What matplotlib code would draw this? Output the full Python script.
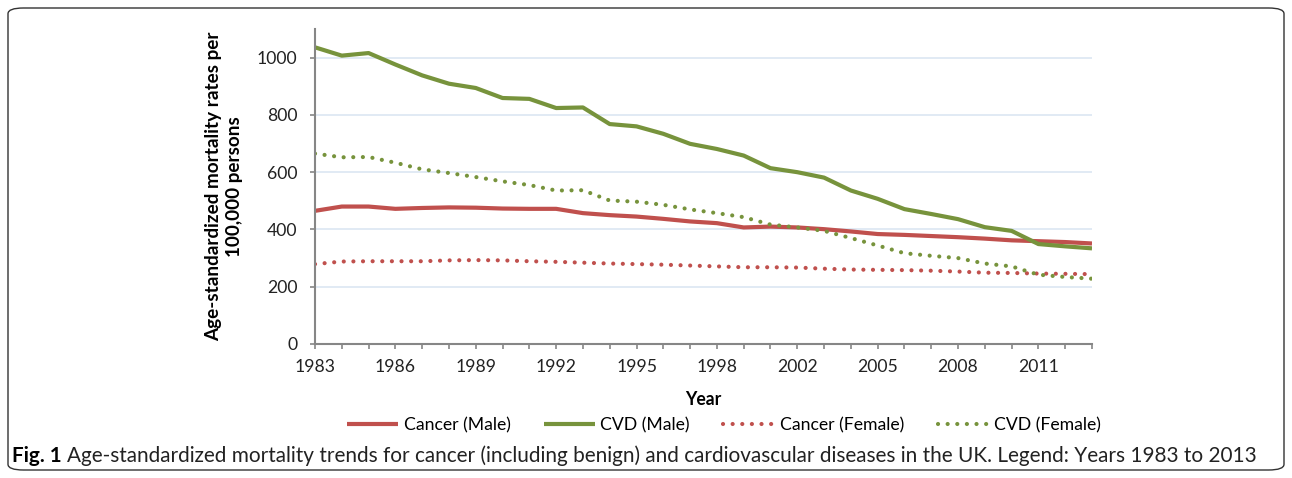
import matplotlib
matplotlib.use('Agg')
import matplotlib.pyplot as plt
from matplotlib.patches import FancyBboxPatch

plt.rcParams['font.family'] = ['Lato', 'DejaVu Sans']

# 数据：横轴是类别（没有2001年）
years = [1983, 1984, 1985, 1986, 1987, 1988, 1989, 1990, 1991, 1992,
         1993, 1994, 1995, 1996, 1997, 1998, 1999, 2000, 2002, 2003,
         2004, 2005, 2006, 2007, 2008, 2009, 2010, 2011, 2012, 2013]
cancer_male = [465, 480, 480, 472, 475, 477, 476, 473, 472, 472,
               457, 450, 445, 437, 428, 422, 407, 410, 407, 401,
               393, 384, 381, 377, 373, 368, 362, 359, 356, 351]
cvd_male = [1036, 1007, 1016, 976, 938, 909, 894, 859, 856, 824,
            826, 768, 760, 734, 699, 681, 658, 614, 600, 581,
            536, 507, 471, 454, 436, 408, 395, 349, 341, 334]
cancer_female = [279, 288, 289, 289, 289, 292, 293, 292, 289, 287,
                 284, 281, 279, 277, 274, 271, 268, 268, 267, 263,
                 260, 259, 258, 256, 253, 249, 248, 246, 245, 244]
cvd_female = [665, 652, 653, 633, 610, 597, 583, 568, 555, 536,
              537, 501, 497, 486, 470, 457, 443, 417, 407, 395,
              370, 344, 317, 308, 300, 281, 271, 242, 234, 228]
series_names = ['Cancer (Male)', 'CVD (Male)', 'Cancer (Female)', 'CVD (Female)']
caption_bold = 'Fig. 1'
caption = ('Age-standardized mortality trends for cancer (including benign) and cardiovascular '
           'diseases in the UK. Legend: Years 1983 to 2013')

red = '#C0504D'
green = '#77933C'

fig = plt.figure(figsize=(12.92, 4.78), dpi=100)
ax = fig.add_axes([315/1292, 1-344/478, (1092-315)/1292, (344-29)/478])

x = list(range(len(years)))
dots = (0, (0.01, 2.3))
ax.plot(x, cancer_male, color=red, lw=3, solid_capstyle='butt', label=series_names[0])
ax.plot(x, cvd_male, color=green, lw=3, solid_capstyle='butt', label=series_names[1])
ax.plot(x, cancer_female, color=red, lw=3, ls=dots, dash_capstyle='round', label=series_names[2])
ax.plot(x, cvd_female, color=green, lw=3, ls=dots, dash_capstyle='round', label=series_names[3])

ax.set_xlim(0, len(years) - 1)
ax.set_ylim(0, 1100)
ax.set_yticks([0, 200, 400, 600, 800, 1000])
ax.set_xticks(x)
ax.set_xticklabels([str(y) if i % 3 == 0 else '' for i, y in enumerate(years)])
ax.tick_params(axis='both', labelsize=12.7, colors='#868686', labelcolor='#222222',
               length=3.6, width=1.2, direction='out')
ax.tick_params(axis='x', pad=7)
ax.tick_params(axis='y', pad=9)

ax.grid(axis='y', color='#DCE6F2', lw=1.2)
ax.set_axisbelow(True)
for s in ['top', 'right']:
    ax.spines[s].set_visible(False)
for s in ['left', 'bottom']:
    ax.spines[s].set_color('#868686')
    ax.spines[s].set_linewidth(1.5)

ax.set_ylabel('Age-standardized mortality rates per\n100,000 persons',
              fontsize=13.6, fontweight='bold', labelpad=10, linespacing=1.25)
ax.set_xlabel('Year', fontsize=12.7, fontweight='bold', labelpad=12)

fig.legend(loc='center', bbox_to_anchor=(724/1292, 1-425/478), ncol=4, frameon=False,
           fontsize=12.7, handlelength=2.9, columnspacing=1.9, handletextpad=0.3)

# 外框
fig.patches.append(FancyBboxPatch((8/1292, 8/478), 1276/1292, 462/478,
                                  boxstyle='round,pad=0,rounding_size=0.012',
                                  transform=fig.transFigure, fill=False,
                                  ec='#333333', lw=1.0))

# 图注：字号按宽度缩放，让它在 x=1263 处结束
cap_y = 1 - 456/478
t1 = fig.text(12/1292, cap_y, caption_bold, fontsize=14, fontweight='bold', va='center')
t2 = fig.text(0, cap_y, caption, fontsize=14, va='center', color='#222222')
fig.canvas.draw()
w_all = t1.get_window_extent().width + 5 + t2.get_window_extent().width
size = 14 * (1263 - 12) / w_all
t1.set_fontsize(size)
t2.set_fontsize(size)
fig.canvas.draw()
bb = t1.get_window_extent()
t2.set_x((bb.x1 + 5)/1292)

fig.savefig('out.png', dpi=100)
